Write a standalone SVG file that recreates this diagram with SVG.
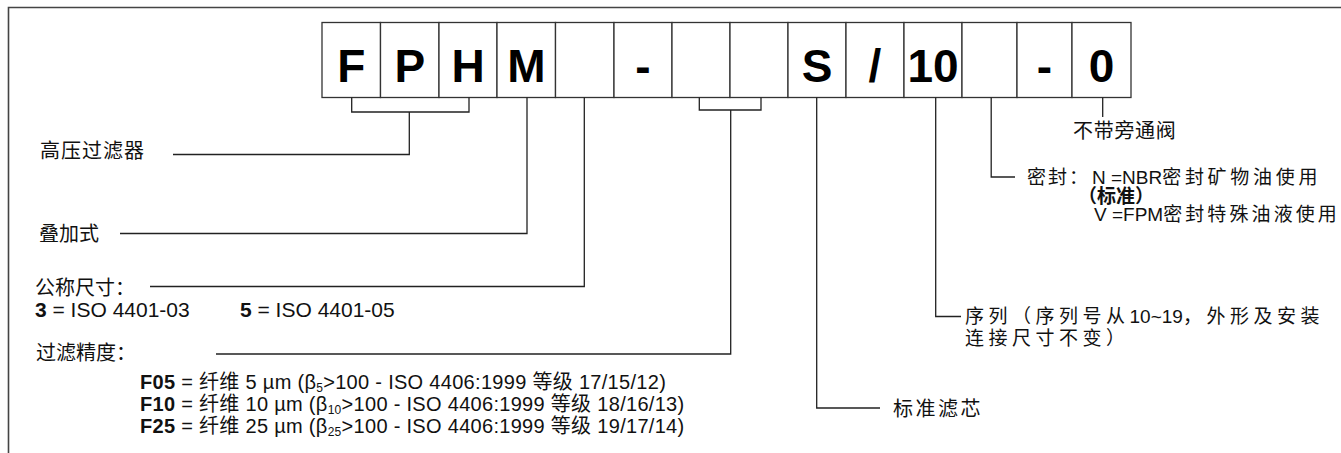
<svg xmlns="http://www.w3.org/2000/svg" width="1341" height="453" viewBox="0 0 1341 453">
<style>
  .frame{fill:none;stroke:#444;stroke-width:1.6}
  .box{fill:#fff;stroke:#333;stroke-width:1.3}
  .code{font-family:"Liberation Sans",Arial,sans-serif;font-weight:bold;font-size:46px;fill:#000;text-anchor:middle}
  .conn{fill:none;stroke:#222;stroke-width:1.3}
  .t{font-family:"Liberation Sans","Noto Sans CJK SC",sans-serif;font-size:20px;fill:#111}
  .l21{font-size:21px}
  .r{font-size:19px}
  .b{font-weight:bold}
  .sub{font-size:12px}
  .frow{letter-spacing:0.3px}
</style>
<rect width="1341" height="453" fill="#fff"/>
<path class="frame" d="M8.5,453 V7.5 H1341"/>

<g id="code-boxes">
  <g id="box-F"><rect class="box" x="322" y="22.5" width="58.5" height="75"/><text class="code" x="351.3" y="82">F</text></g>
  <g id="box-P"><rect class="box" x="380.5" y="22.5" width="58.5" height="75"/><text class="code" x="409.8" y="82">P</text></g>
  <g id="box-H"><rect class="box" x="439" y="22.5" width="58" height="75"/><text class="code" x="468" y="82">H</text></g>
  <g id="box-M"><rect class="box" x="497" y="22.5" width="58.5" height="75"/><text class="code" x="526.3" y="82">M</text></g>
  <g id="box-size"><rect class="box" x="555.5" y="22.5" width="58.5" height="75"/></g>
  <g id="box-dash1"><rect class="box" x="614" y="22.5" width="58" height="75"/><text class="code" x="643" y="82">-</text></g>
  <g id="box-f1"><rect class="box" x="672" y="22.5" width="58" height="75"/></g>
  <g id="box-f2"><rect class="box" x="730" y="22.5" width="58" height="75"/></g>
  <g id="box-S"><rect class="box" x="788" y="22.5" width="58" height="75"/><text class="code" x="817" y="82">S</text></g>
  <g id="box-slash"><rect class="box" x="846" y="22.5" width="58" height="75"/><text class="code" x="875" y="82">/</text></g>
  <g id="box-10"><rect class="box" x="904" y="22.5" width="58" height="75"/><text class="code" x="933" y="82">10</text></g>
  <g id="box-seal"><rect class="box" x="962" y="22.5" width="55" height="75"/></g>
  <g id="box-dash2"><rect class="box" x="1017" y="22.5" width="55" height="75"/><text class="code" x="1044.5" y="82">-</text></g>
  <g id="box-0"><rect class="box" x="1072" y="22.5" width="59" height="75"/><text class="code" x="1101.5" y="82">0</text></g>
</g>

<g id="connectors">
  <path class="conn" d="M351.7,97.5 V112 H469 V97.5"/>
  <path class="conn" d="M409.3,112 V154.5 H173"/>
  <path class="conn" d="M527,97.5 V233.5 H120"/>
  <path class="conn" d="M584.3,97.5 V286.5 H150"/>
  <path class="conn" d="M699.3,97.5 V110 H761 V97.5"/>
  <path class="conn" d="M730.7,110 V354 H216"/>
  <path class="conn" d="M816.7,97.5 V408 H880"/>
  <path class="conn" d="M935.7,97.5 V316.5 H961"/>
  <path class="conn" d="M991.2,97.5 V177 H1015"/>
  <path class="conn" d="M1102.7,97.5 V117"/>
</g>

<g id="label-filter"><text class="t" x="40" y="158" letter-spacing="1">高压过滤器</text></g>
<g id="label-stack"><text class="t" x="39" y="241">叠加式</text></g>
<g id="label-size">
  <text class="t" x="35" y="295">公称尺寸：</text>
  <text class="t l21" x="35" y="317"><tspan class="b">3</tspan> = ISO 4401-03</text>
  <text class="t l21" x="240" y="317"><tspan class="b">5</tspan> = ISO 4401-05</text>
</g>
<g id="label-precision">
  <text class="t" x="36" y="360">过滤精度：</text>
  <text class="t frow" x="140" y="389"><tspan class="b">F05</tspan> = 纤维 5 µm (β<tspan class="sub" dy="3">5</tspan><tspan dy="-3">&gt;100 - ISO 4406:1999 等级 17/15/12)</tspan></text>
  <text class="t frow" x="140" y="411"><tspan class="b">F10</tspan> = 纤维 10 µm (β<tspan class="sub" dy="3">10</tspan><tspan dy="-3">&gt;100 - ISO 4406:1999 等级 18/16/13)</tspan></text>
  <text class="t frow" x="140" y="433"><tspan class="b">F25</tspan> = 纤维 25 µm (β<tspan class="sub" dy="3">25</tspan><tspan dy="-3">&gt;100 - ISO 4406:1999 等级 19/17/14)</tspan></text>
</g>
<g id="label-element"><text class="t" x="893" y="416" letter-spacing="2.5">标准滤芯</text></g>
<g id="label-series">
  <text class="t r" x="965" y="323"><tspan letter-spacing="4.5">序列（序列号从</tspan>10~19<tspan letter-spacing="4.5">，外形及安装</tspan></text>
  <text class="t r" x="965" y="345" letter-spacing="4.5">连接尺寸不变）</text>
</g>
<g id="label-seal">
  <text class="t r" x="1027" y="184" letter-spacing="2">密封：</text>
  <text class="t r" x="1092" y="184">N =NBR<tspan letter-spacing="3.7">密封矿物油使</tspan>用</text>
  <text class="t r b" x="1078" y="202.5">（标准）</text>
  <text class="t r" x="1094" y="221">V =FPM<tspan letter-spacing="3.1">密封特殊油液使</tspan>用</text>
</g>
<g id="label-bypass"><text class="t" x="1073" y="138" letter-spacing="0.7">不带旁通阀</text></g>
</svg>
